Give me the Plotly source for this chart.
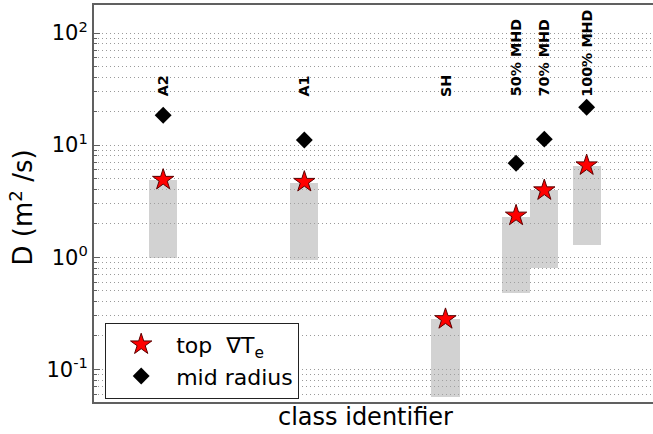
import math
import plotly.graph_objects as go

# ---- data ----
positions = [1.0, 2.0, 3.0, 3.5, 3.7, 4.0]
labels = ["A2", "A1", "SH", "50% MHD", "70% MHD", "100% MHD"]
top_gradTe = [4.9, 4.7, 0.28, 2.35, 3.95, 6.6]
mid_radius = [18.5, 11.1, None, 6.9, 11.3, 21.8]
range_low = [0.98, 0.94, 0.057, 0.48, 0.80, 1.28]
range_high = [4.9, 4.6, 0.28, 2.3, 4.0, 6.5]
label_y = 26.0
y_tickvals = [0.1, 1, 10, 100]
y_ticktext = ["10<sup>-1</sup>", "10<sup>0</sup>", "10<sup>1</sup>", "10<sup>2</sup>"]

FONT = "DejaVu Sans"

fig = go.Figure()

fig.add_trace(go.Bar(
    x=positions,
    y=[h - l for h, l in zip(range_high, range_low)],
    base=range_low,
    width=0.2,
    marker=dict(color="rgba(165,165,165,0.5)", line=dict(width=0)),
    showlegend=False,
    hoverinfo="skip",
))

fig.add_trace(go.Scatter(
    x=positions, y=top_gradTe, mode="markers",
    name="top  \u2207T<sub>e</sub>",
    marker=dict(symbol="star", size=16, color="#ff0000",
                line=dict(color="#5a0000", width=1)),
))

fig.add_trace(go.Scatter(
    x=positions, y=mid_radius, mode="markers",
    name="mid radius",
    marker=dict(symbol="diamond", size=13, color="black",
                line=dict(color="black", width=0)),
))

for x, lab in zip(positions, labels):
    fig.add_annotation(
        x=x, y=math.log10(label_y), xref="x", yref="y",
        text="<b>" + lab + "</b>", textangle=-90,
        showarrow=False, xanchor="center", yanchor="bottom",
        font=dict(family=FONT, size=14.3, color="black"),
    )

minor_vals = [m * 10 ** e for e in range(-2, 3) for m in range(2, 10)]

fig.update_layout(
    width=653, height=434,
    margin=dict(l=94, r=0, t=5, b=32),
    paper_bgcolor="white", plot_bgcolor="white",
    font=dict(family=FONT, color="black"),
    bargap=0,
    showlegend=True,
    legend=dict(
        x=0.02, y=0.2, xanchor="left", yanchor="top",
        bordercolor="#222222", borderwidth=1, bgcolor="white",
        font=dict(family=FONT, size=22, color="black"),
        itemsizing="trace",
        itemwidth=60,
        tracegroupgap=0,
    ),
    xaxis=dict(
        range=[0.51, 4.47], showgrid=False, zeroline=False,
        showticklabels=False, ticks="",
        showline=True, linecolor="#606060", linewidth=2, mirror=True,
    ),
    yaxis=dict(
        type="log",
        range=[math.log10(0.051), math.log10(178)],
        tickmode="array", tickvals=y_tickvals, ticktext=y_ticktext,
        tickfont=dict(family=FONT, size=21, color="black"),
        ticks="inside", ticklen=6, tickcolor="#606060",
        showgrid=True, gridcolor="#9a9a9a", gridwidth=1, griddash="1px,3px",
        minor=dict(tickmode="array", tickvals=minor_vals, showgrid=True,
                   gridcolor="#9a9a9a", gridwidth=1, griddash="1px,3px",
                   ticks="inside", ticklen=3, tickcolor="#606060"),
        zeroline=False,
        showline=True, linecolor="#606060", linewidth=2,
    ),
)

fig.add_annotation(
    x=(22 - 94) / 559, y=0.49, xref="paper", yref="paper",
    text="D (m<sup>2</sup> /s)", textangle=-90, showarrow=False,
    xanchor="center", yanchor="middle",
    font=dict(family=FONT, size=26, color="black"),
)

fig.add_annotation(
    x=(365 - 94) / 559, y=-(417 - 402) / 397, xref="paper", yref="paper",
    text="class identifier", showarrow=False,
    xanchor="center", yanchor="middle",
    font=dict(family=FONT, size=24, color="black"),
)

fig.write_html("out.html")
